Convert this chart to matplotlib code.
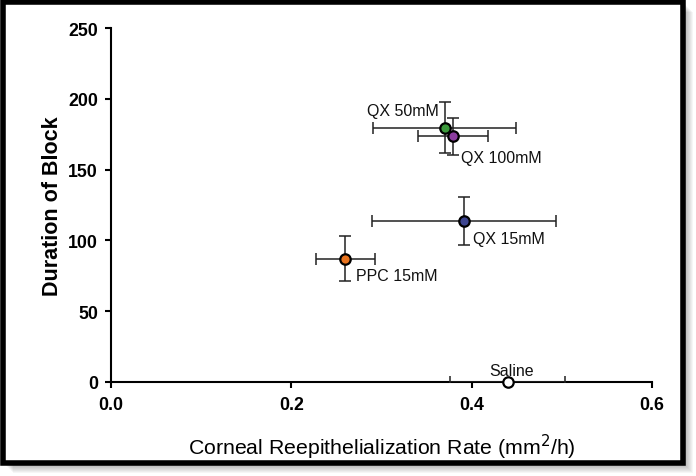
import numpy as np
import matplotlib
matplotlib.use('Agg')
import matplotlib.pyplot as plt
from matplotlib.patches import Rectangle

plt.rcParams['font.family'] = ['Liberation Sans', 'DejaVu Sans']

# data
groups = ['QX 50mM', 'QX 100mM', 'QX 15mM', 'PPC 15mM', 'Saline']
rate = [0.370, 0.379, 0.391, 0.260, 0.440]
rate_err = [0.079, 0.039, 0.102, 0.033, 0.064]
duration = [179.5, 173.5, 113.5, 87.0, 0.0]
duration_err = [18, 13, 17, 16, 0]
colors = ['#3c9a3c', '#8c3d9e', '#3d4590', '#e8731e', '#ffffff']
# label offsets (points) and alignment
offsets = [(-4, 9), (6.3, -18.7), (6.7, -15.8), (7.4, -14.9), (2.9, 5)]
aligns = ['right', 'left', 'left', 'left', 'center']

W, H = 696, 477
fig = plt.figure(figsize=(W / 100, H / 100), dpi=100)

# framed border with soft shadow
L, R, T, B = 3, 683, 2.5, 463.7
for k in range(1, 11):
    fig.add_artist(Rectangle(((L + k) / W, 1 - (B + k) / H), (R - L) / W, (B - T) / H,
                             transform=fig.transFigure, facecolor='#000000', alpha=0.035,
                             edgecolor='none', zorder=-5))
fig.add_artist(Rectangle((L / W, 1 - B / H), (R - L) / W, (B - T) / H,
                         transform=fig.transFigure, facecolor='white',
                         edgecolor='black', linewidth=4.0, zorder=-4))

ax = fig.add_axes([111 / W, 1 - 383 / H, (652 - 111) / W, (383 - 29) / H])
ax.patch.set_alpha(0)

for i in range(len(groups)):
    ax.errorbar(rate[i], duration[i], xerr=rate_err[i], yerr=duration_err[i] if duration_err[i] else None,
                fmt='none', ecolor='#222222', elinewidth=1.1, capsize=4, capthick=1.1, zorder=3)
    ax.plot(rate[i], duration[i], 'o', ms=7.5, mfc=colors[i], mec='black', mew=1.6,
            clip_on=False, zorder=5)
    ax.annotate(groups[i], (rate[i], duration[i]), xytext=offsets[i], textcoords='offset points',
                ha=aligns[i], va='baseline', fontsize=11.5, color='#111111')

ax.set_xlim(0, 0.6)
ax.set_ylim(0, 250)
ax.set_xticks([0.0, 0.2, 0.4, 0.6])
ax.set_xticklabels(['0.0', '0.2', '0.4', '0.6'])
ax.set_yticks(np.arange(0, 251, 50))

for s in ['top', 'right']:
    ax.spines[s].set_visible(False)
for s in ['left', 'bottom']:
    ax.spines[s].set_linewidth(1.5)
ax.tick_params(width=1.5, length=4.3, labelsize=12.8)
ax.tick_params(axis='x', pad=6)
ax.tick_params(axis='y', pad=5)
for lab in ax.get_xticklabels() + ax.get_yticklabels():
    lab.set_fontweight('bold')

ax.set_xlabel('Corneal Reepithelialization Rate (mm$^2$/h)', fontsize=15.3, labelpad=13.5)
ax.set_ylabel('Duration of Block', fontsize=15.5, fontweight='bold', labelpad=4)

fig.savefig('out.png', dpi=100)
